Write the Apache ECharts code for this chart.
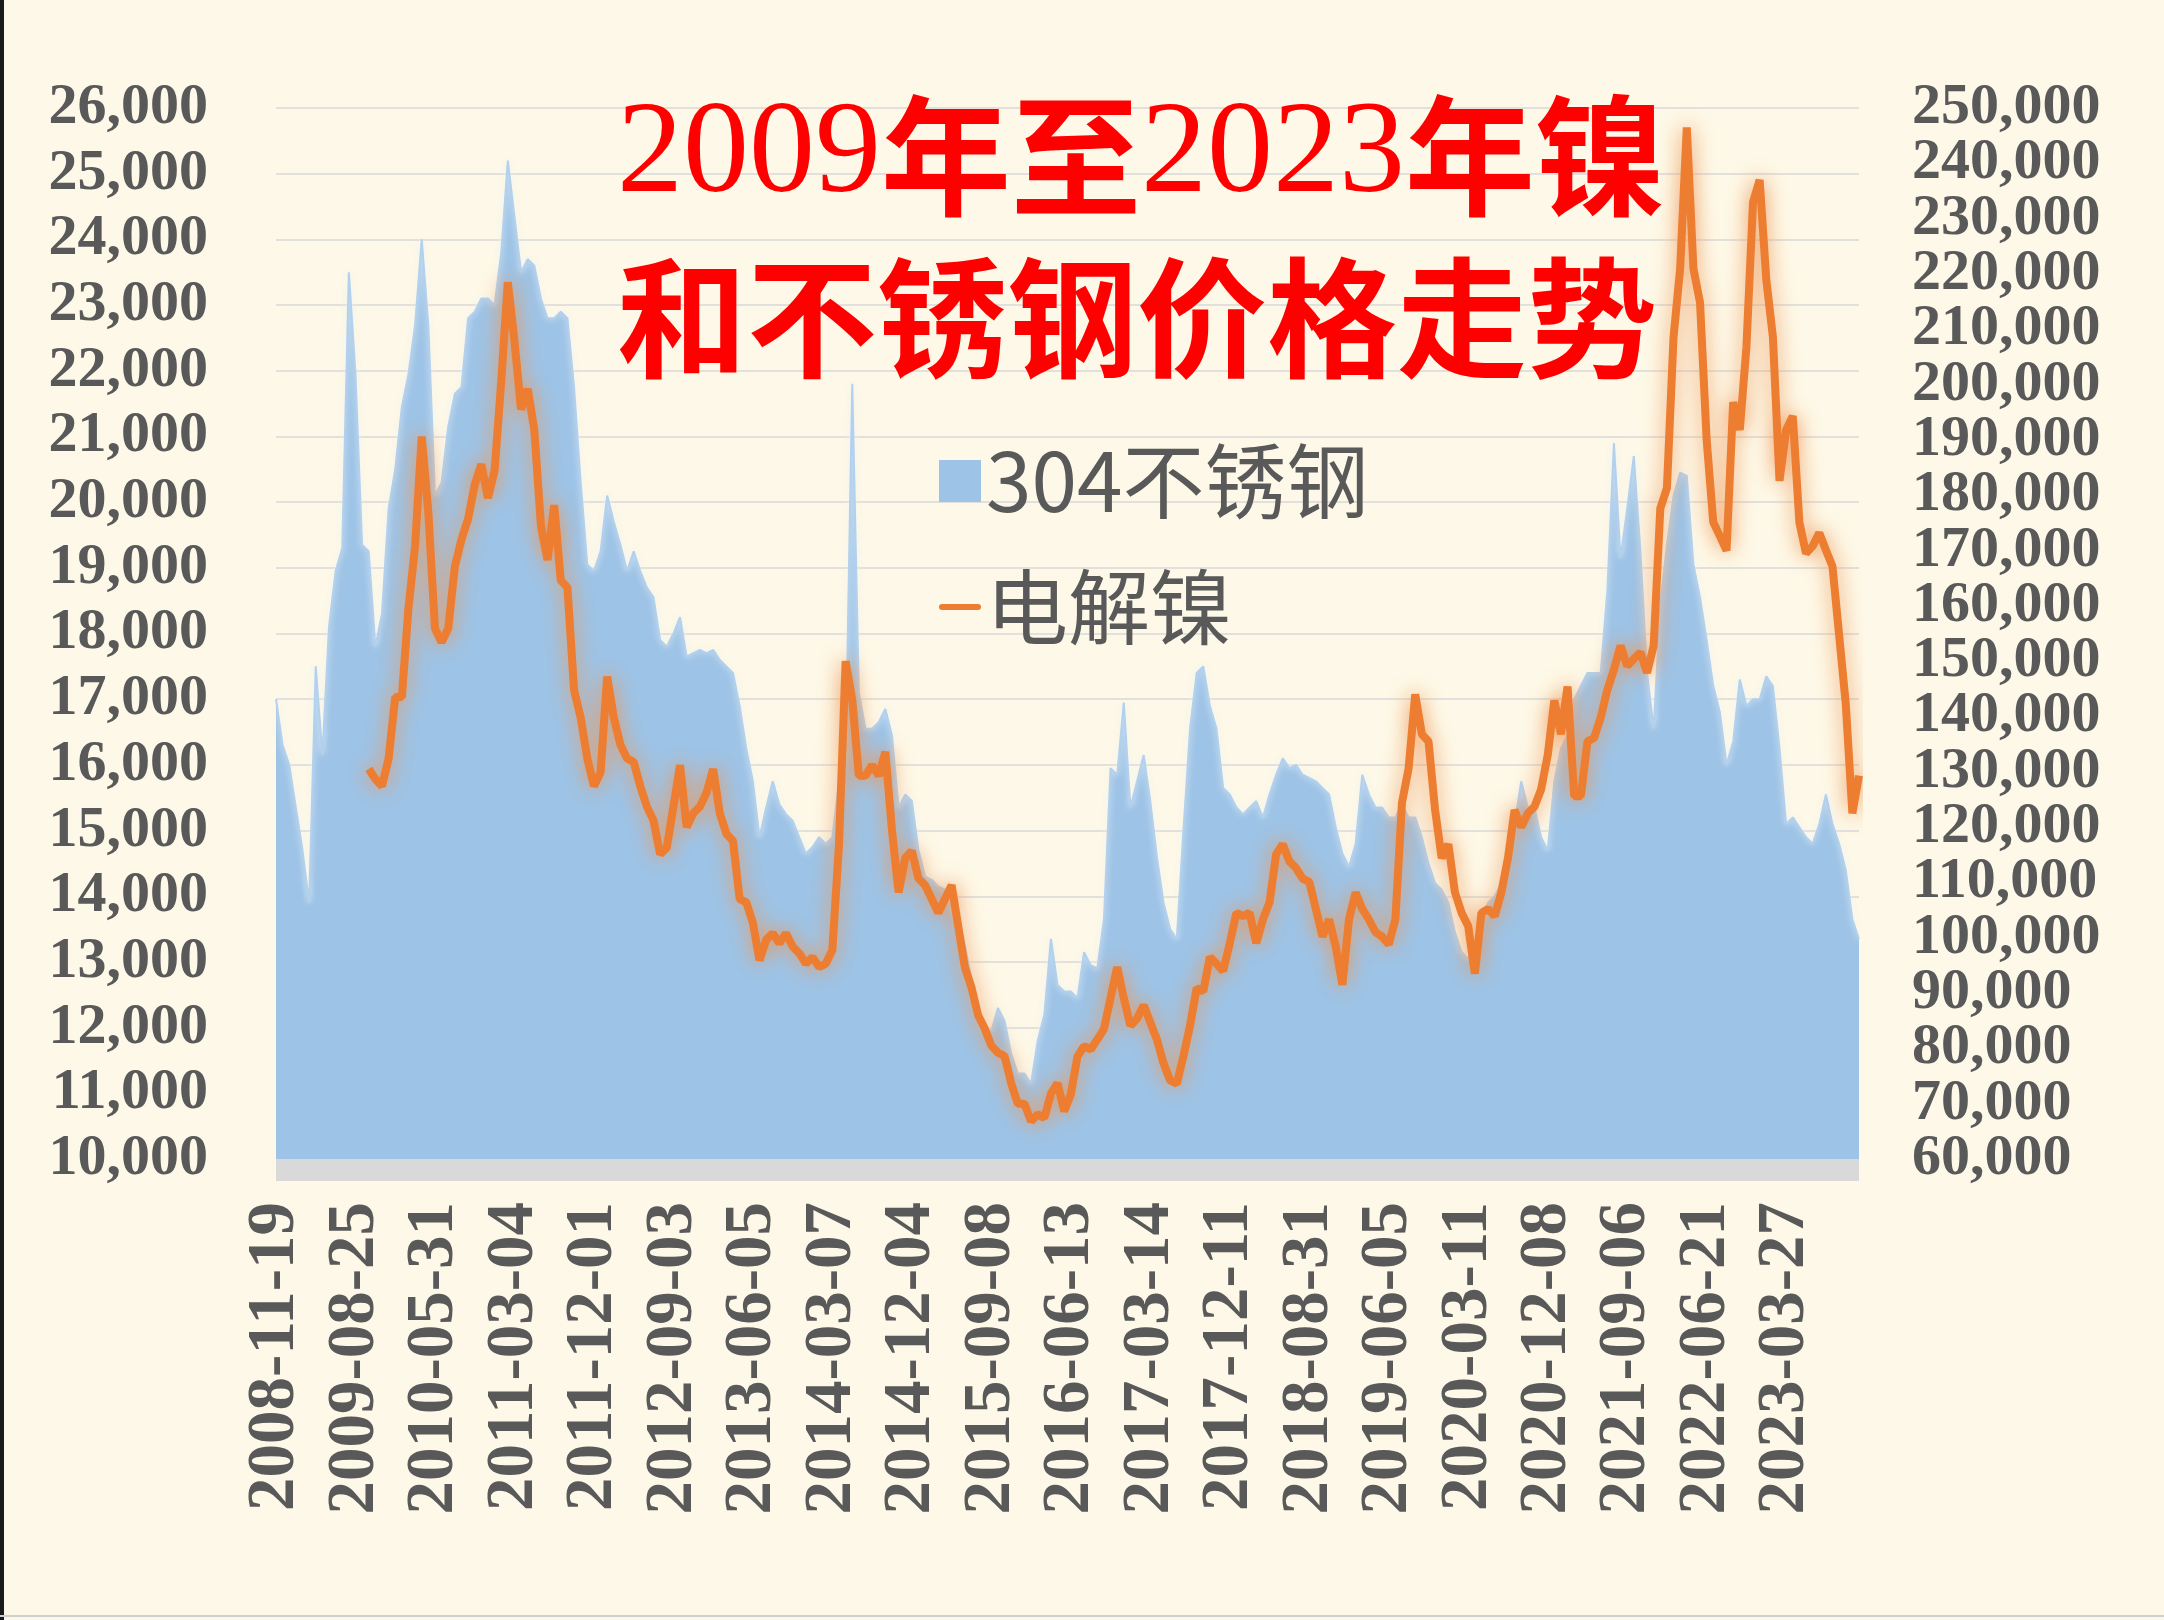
<!DOCTYPE html>
<html><head><meta charset="utf-8">
<script src="https://cdn.jsdelivr.net/npm/echarts@6/dist/echarts.min.js"></script>
<style>html,body{margin:0;padding:0;background:#fdf8e7}#c{width:2164px;height:1620px}</style>
</head><body><div id="c"></div><script>
// x-axis tick labels (one every 12 points)
const tickDates = ['2008-11-19','2009-08-25','2010-05-31','2011-03-04','2011-12-01','2012-09-03','2013-06-05','2014-03-07','2014-12-04','2015-09-08','2016-06-13','2017-03-14','2017-12-11','2018-08-31','2019-06-05','2020-03-11','2020-12-08','2021-09-06','2022-06-21','2023-03-27'];
const pointsPerTick = 12;

// 304 stainless steel (left axis, yuan/t)
const steel = [
17000,16300,16000,15350,14700,13900,17500,16150,18100,18950,19300,23500,
21950,19350,19250,17800,18300,19900,20500,21450,21950,22700,24000,22700,
20100,20300,21150,21650,21750,22800,22900,23100,23100,23000,23800,25200,
24350,23500,23700,23600,23100,22800,22800,22900,22800,21750,20300,19050,
18950,19250,20100,19700,19350,18950,19250,18950,18700,18550,17900,17800,
18000,18250,17650,17700,17750,17700,17750,17600,17500,17400,16900,16250,
15750,14900,15350,15750,15400,15250,15150,14900,14650,14750,14900,14800,
14900,15750,16150,21800,17100,16550,16550,16650,16850,16450,15350,15550,
15450,14700,14300,14250,14150,14100,13800,13650,13250,12750,12250,12000,
11950,12300,12100,11600,11300,11300,11150,11800,12200,13350,12650,12550,
12550,12450,13150,12950,12900,13650,15950,15850,16950,15350,15750,16150,
15450,14600,13900,13500,13350,15000,16550,17400,17500,16900,16550,15650,
15550,15350,15250,15350,15450,15200,15550,15850,16100,15950,16000,15850,
15800,15750,15650,15550,15050,14650,14450,14800,15850,15550,15350,15350,
15200,15200,15400,15200,15200,14900,14500,14200,14100,13900,13450,13150,
13050,13250,13650,13900,14000,14200,14700,15100,15750,15350,15350,14900,
14700,15750,16250,16450,17000,17200,17400,17400,17400,18650,20900,19150,
19900,20700,19250,17400,16550,18450,19350,20100,20450,20400,19050,18550,
17900,17200,16800,16000,16350,17300,16900,17000,17000,17350,17200,16250,
15100,15200,15050,14900,14800,15100,15550,15100,14800,14400,13650,13350
];

// electrolytic nickel (right axis, yuan/t)
const nickel = [
null,null,null,null,null,null,null,null,null,null,null,null,
null,null,130500,128700,127400,132400,143500,143500,159600,170800,190600,176900,
155900,153400,155900,167100,172000,175700,181900,185600,179500,184400,200500,218500,
207900,195500,199200,191800,174500,168300,178200,164600,163300,144800,139800,132400,
127400,129900,147200,139800,134900,132400,131800,127400,123700,121200,115100,116300,
123700,131200,120000,122500,123700,126200,130500,122500,118800,117500,107000,106400,
102700,95900,99600,100800,99000,100800,98400,97200,95300,96500,94700,95300,
97800,116900,150000,143000,129300,129300,131200,129300,133600,119400,108200,114400,
115700,110700,109500,107000,104500,107000,109500,102100,94700,91000,86000,83600,
80500,79200,78600,73700,70000,70000,66800,68100,67400,71800,73700,68600,
71700,78500,80400,79800,81600,83500,89100,94700,89100,84100,85400,87800,
84700,81600,77300,74200,73600,78600,84100,90900,90300,96500,95300,94000,
99000,104500,103900,104500,99000,103300,106400,115100,116900,113800,112600,110700,
110100,105200,100200,103300,98400,91500,103300,108200,105200,103300,101000,100200,
98800,103300,124400,130600,144000,136800,135500,123100,114400,116900,108200,104500,
102100,93500,104500,105200,103900,108200,114400,123100,120000,122500,123700,126800,
133000,142900,136800,145400,125600,125600,135500,136100,139800,144800,148500,152800,
149100,150400,151600,147900,152800,177600,181300,208600,221000,246500,221000,214800,
190000,175100,172600,170000,196800,191800,206700,233000,237000,219000,208600,182600,
191800,194300,175100,169500,170800,173200,170100,167100,154700,142300,122500,129300
];

const leftMin = 10000, leftMax = 26000, leftStep = 1000;
const rightMin = 60000, rightMax = 250000, rightStep = 10000;
// right-hand tick labels (60,000 … 250,000), shown on a label-only axis so none is dropped
const rightTickLabels = [];
for (let v = rightMin; v <= rightMax; v += rightStep) rightTickLabels.push(v.toLocaleString('en-US'));

// category dates (tick dates at every 12th point, intermediate dates spread between them)
function fmt(d){ return d.toISOString().slice(0,10); }
const categories = [];
for (let i = 0; i < steel.length; i++) {
  const j = Math.floor(i / pointsPerTick), f = (i % pointsPerTick) / pointsPerTick;
  const a = Date.parse(tickDates[j]);
  const b = (j + 1 < tickDates.length) ? Date.parse(tickDates[j + 1])
          : a + (a - Date.parse(tickDates[tickDates.length - 2]));
  categories.push(fmt(new Date(a + f * (b - a))));
}
const nickelData = nickel.map(v => v == null ? '-' : v);

const serifBold = {color:'#595959', fontFamily:'"Liberation Serif", "Times New Roman", serif', fontWeight:'bold'};
const fmtNum = v => Number(v).toLocaleString('en-US');

const chart = echarts.init(document.getElementById('c'), null, {renderer:'canvas'});
chart.setOption({
  backgroundColor:'#fdf8e7',
  animation:false,
  title:{
    text:'{d|2009}{c|年至}{d|2023}{c|年镍}\n{c|和不锈钢价格走势}',
    left:612, top:70,
    textStyle:{
      rich:{
        d:{color:'#ff0000', fontSize:132, lineHeight:162, fontWeight:'normal',
           fontFamily:'"Liberation Serif", serif'},
        c:{color:'#ff0000', fontSize:130, lineHeight:162, fontWeight:'bold',
           fontFamily:'"Noto Sans CJK SC", sans-serif'}
      }
    }
  },
  legend:{
    orient:'vertical', left:934, top:435, itemWidth:42, itemHeight:42, itemGap:44,
    textStyle:{fontSize:82, lineHeight:82, color:'#595959', fontFamily:'"Noto Sans CJK SC", sans-serif'},
    data:[
      {name:'304不锈钢', icon:'rect', itemStyle:{color:'#9dc3e6'}},
      {name:'电解镍', icon:'path://M3,0H39A3,3 0 0 1 39,6H3A3,3 0 0 1 3,0Z', itemStyle:{color:'#ed7d31'}}
    ]
  },
  grid:{left:276, right:305, top:108, bottom:461, containLabel:false},
  xAxis:{
    type:'category', data:categories, boundaryGap:false, offset:11,
    axisLine:{show:true, lineStyle:{color:'#d9d9d9', width:22, cap:'butt'}},
    axisTick:{show:false},
    splitLine:{show:false},
    axisLabel:Object.assign({interval:pointsPerTick-1, rotate:90, margin:32, fontSize:67}, serifBold)
  },
  yAxis:[
    {type:'value', min:leftMin, max:leftMax, interval:leftStep, position:'left',
     axisLine:{show:false}, axisTick:{show:false},
     axisLabel:Object.assign({margin:68, fontSize:58, formatter:fmtNum, showMinLabel:true, showMaxLabel:true}, serifBold),
     splitLine:{show:true, lineStyle:{color:'#d9d9d9', width:1.5}}},
    {type:'value', min:rightMin, max:rightMax, interval:rightStep, position:'right',
     axisLine:{show:false}, axisTick:{show:false}, axisLabel:{show:false},
     splitLine:{show:false}},
    {type:'category', data:rightTickLabels, boundaryGap:false, position:'right',
     axisLine:{show:false}, axisTick:{show:false}, splitLine:{show:false},
     axisLabel:Object.assign({interval:0, margin:53, fontSize:58}, serifBold)}
  ],
  series:[
    {name:'304不锈钢', type:'line', yAxisIndex:0, data:steel, symbol:'none', z:1,
     itemStyle:{color:'#9dc3e6'},
     lineStyle:{width:2, color:'#b3d0ec', shadowBlur:6, shadowColor:'rgba(235,243,251,0.95)'},
     areaStyle:{color:'#9dc3e6', opacity:1}},
    {name:'电解镍', type:'line', yAxisIndex:1, data:nickelData, symbol:'none', z:3,
     itemStyle:{color:'#ed7d31'},
     lineStyle:{width:8, color:'#ed7d31', shadowBlur:20, shadowColor:'rgba(238,150,85,1)'}}
  ],
  graphic:[
    {type:'rect', left:0, top:0, shape:{width:4, height:1620}, style:{fill:'#1a1a1a'}, silent:true},
    {type:'rect', left:0, top:1615, shape:{width:2164, height:2}, style:{fill:'#cfcfcf'}, silent:true}
  ]
});
</script></body></html>
